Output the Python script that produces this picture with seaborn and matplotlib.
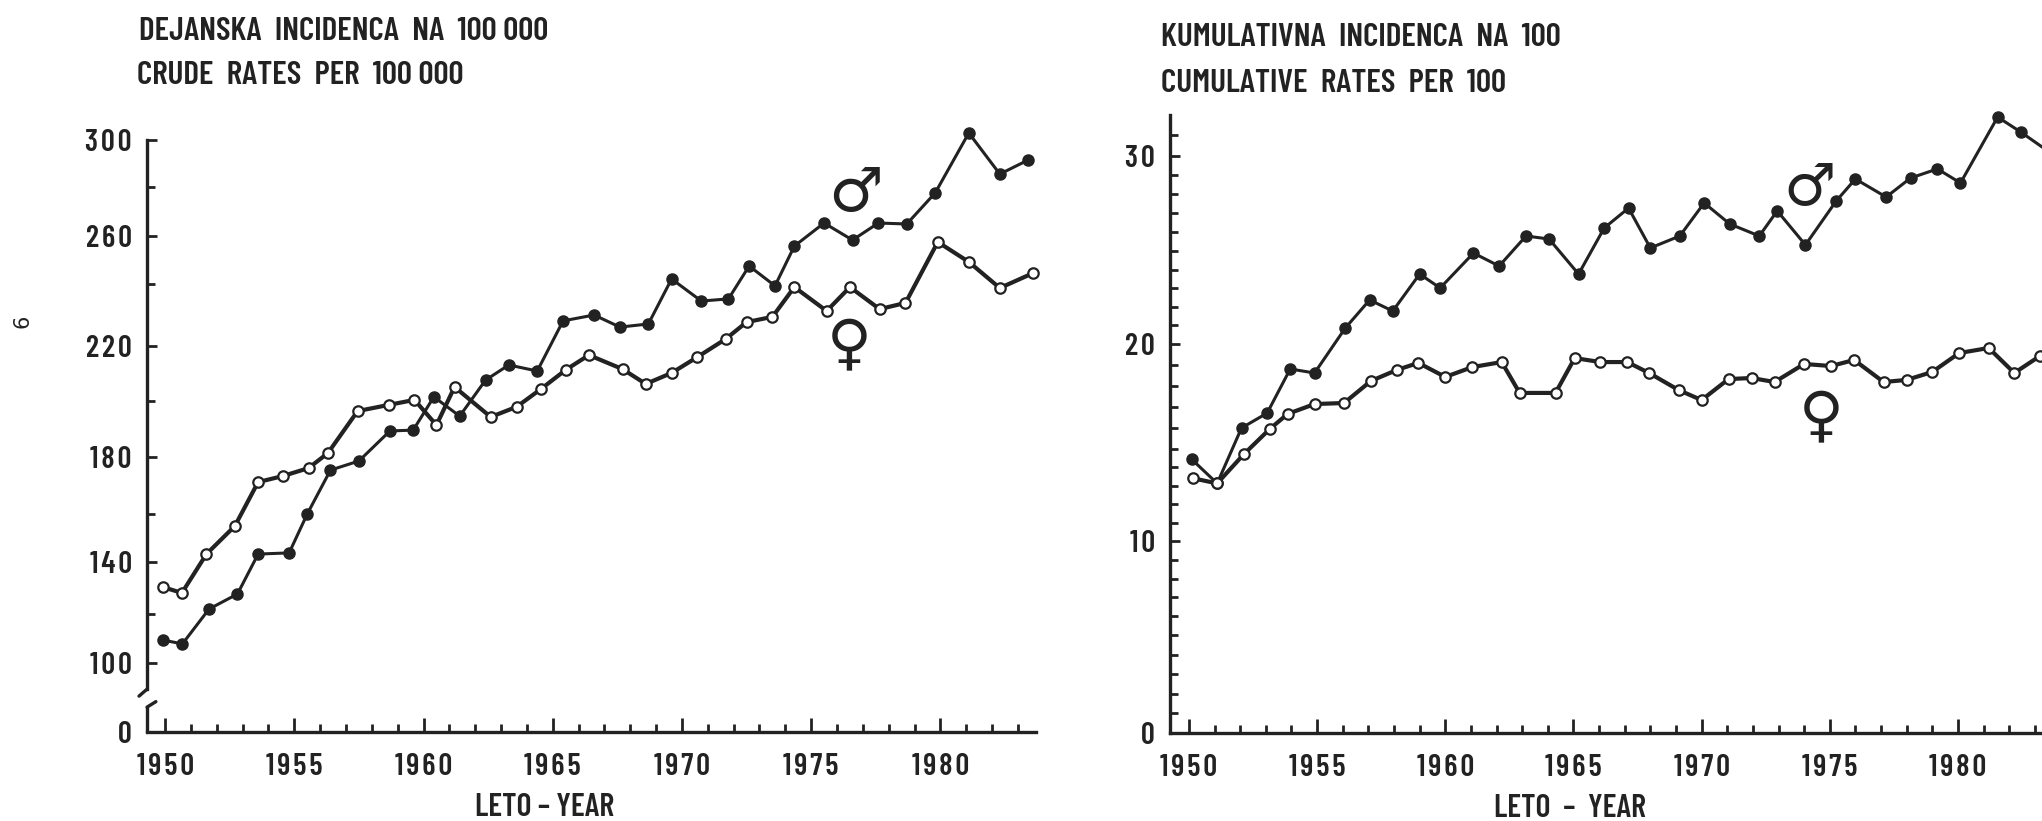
import matplotlib
matplotlib.use("Agg")
import matplotlib.pyplot as plt
from matplotlib.ticker import FixedLocator
import numpy as np
import pandas as pd
import seaborn as sns

# values, x positions are as drawn (hand plotted, not exactly on the year)
crude_male_x = [1949.9, 1950.67, 1951.7, 1952.8, 1953.6, 1954.8, 1955.5, 1956.4, 1957.5, 1958.7, 1959.6,
                1960.4, 1961.4, 1962.4, 1963.3, 1964.4, 1965.4, 1966.6, 1967.6, 1968.7, 1969.6, 1970.75,
                1971.8, 1972.6, 1973.6, 1974.35, 1975.5, 1976.6, 1977.6, 1978.7, 1979.8, 1981.1, 1982.3, 1983.4]
crude_male_y = [109.4, 107.8, 121.9, 127.7, 143.3, 143.8, 160, 175.4, 178.6, 189.3, 189.6,
                201.5, 194.6, 207.6, 213.1, 210.9, 228.1, 230, 226.1, 227.1, 242.1, 234.5,
                235.2, 247.5, 239.4, 255.8, 265.3, 258.3, 265.3, 264.9, 277.6, 303, 285.5, 291.5]
crude_female_x = [1949.9, 1950.65, 1951.6, 1952.7, 1953.6, 1954.55, 1955.55, 1956.3, 1957.45, 1958.65, 1959.65,
                  1960.5, 1961.2, 1962.6, 1963.6, 1964.55, 1965.5, 1966.4, 1967.7, 1968.6, 1969.6, 1970.6,
                  1971.7, 1972.5, 1973.5, 1974.35, 1975.6, 1976.5, 1977.65, 1978.65, 1979.9, 1981.1, 1982.3, 1983.6]
crude_female_y = [130.4, 128.1, 143.3, 155, 171.2, 173.3, 176.1, 181.4, 196.4, 198.6, 200.4,
                  191.4, 205.1, 194.3, 197.9, 204.4, 211.3, 216.7, 211.6, 206.2, 210.2, 216,
                  222.3, 227.7, 229.4, 239, 231.3, 239, 231.9, 233.9, 257.5, 249.2, 238.7, 244.6]

cum_male_x = [1950.1, 1951.1, 1952.05, 1953.05, 1953.95, 1954.9, 1956.1, 1957.05, 1957.95, 1959.0, 1959.8,
              1961.1, 1962.1, 1963.15, 1964.05, 1965.2, 1966.2, 1967.15, 1968.0, 1969.15, 1970.1, 1971.1,
              1972.25, 1972.95, 1974.05, 1975.25, 1976.0, 1977.2, 1978.15, 1979.2, 1980.1, 1981.55, 1982.45, 1983.5]
cum_male_y = [14.45, 13.13, 16.0, 16.71, 18.81, 18.62, 20.86, 22.37, 21.77, 23.76, 23.01,
              24.89, 24.19, 25.79, 25.63, 23.76, 26.21, 27.26, 25.16, 25.79, 27.53, 26.42,
              25.79, 27.11, 25.32, 27.63, 28.79, 27.84, 28.84, 29.32, 28.58, 31.9, 31.17, 30.25]
cum_female_x = [1950.15, 1951.1, 1952.15, 1953.15, 1953.85, 1954.9, 1956.05, 1957.1, 1958.1, 1958.95, 1960,
                1961.05, 1962.2, 1962.9, 1964.3, 1965.05, 1966.05, 1967.1, 1967.95, 1969.1, 1970, 1971.05,
                1971.95, 1972.85, 1974, 1975.05, 1975.95, 1977.1, 1978, 1979, 1980.05, 1981.2, 1982.2, 1983.2]
cum_female_y = [13.41, 13.13, 14.73, 15.95, 16.67, 17.14, 17.19, 18.24, 18.76, 19.1, 18.43,
                18.9, 19.14, 17.67, 17.67, 19.33, 19.14, 19.14, 18.62, 17.81, 17.33, 18.33,
                18.38, 18.19, 19.05, 18.95, 19.24, 18.19, 18.29, 18.67, 19.57, 19.81, 18.62, 19.43]

year_ticks = [1950, 1955, 1960, 1965, 1970, 1975, 1980]
crude_ticks = [0, 100, 140, 180, 220, 260, 300]
cum_ticks = [0, 10, 20, 30]

INK = "#222222"
W, H = 2042, 821
GAP = "\u200a"  # the typewriter digits of the scan sit further apart

sns.set_theme(style="white")
plt.rcParams["font.family"] = ["Barlow Condensed", "DejaVu Sans"]
plt.rcParams["font.weight"] = 600


def frac(x, y):
    # pixel in the scan -> figure fraction
    return x / W, 1 - y / H


def make_axes(fig, left, right, top, bottom):
    x0, y0 = frac(left, bottom)
    x1, y1 = frac(right, top)
    return fig.add_axes([x0, y0, x1 - x0, y1 - y0])


def uneven_scale(ax, values, heights):
    # the drawn axes of the scan are not evenly spaced, so follow the printed ticks
    ax.set_yscale("function", functions=(
        lambda v: np.interp(v, values, heights),
        lambda h: np.interp(h, heights, values),
    ))


def spaced(ticks):
    return [GAP.join(str(t)) for t in ticks]


def draw_series(ax, xs, ys, filled):
    df = pd.DataFrame({"x": xs, "y": ys})
    sns.lineplot(data=df, x="x", y="y", ax=ax, sort=False, estimator=None, color=INK,
                 linewidth=2.2 if filled else 3.0, marker="o", markersize=8 if filled else 7.5,
                 markerfacecolor=INK if filled else "white", markeredgecolor=INK,
                 markeredgewidth=1.0 if filled else 1.6, clip_on=False, zorder=3)


def style_axes(ax, yticks, yminor, xmax_tick):
    sns.despine(ax=ax)
    ax.spines["left"].set_linewidth(2.4)
    ax.spines["bottom"].set_linewidth(2.4)
    ax.spines["left"].set_color(INK)
    ax.spines["bottom"].set_color(INK)
    ax.set_xticks(year_ticks, spaced(year_ticks))
    ax.set_yticks(yticks, spaced(yticks))
    ax.xaxis.set_minor_locator(FixedLocator([y for y in range(1950, xmax_tick + 1) if y % 5]))
    ax.yaxis.set_minor_locator(FixedLocator(yminor))
    ax.tick_params(axis="x", which="major", direction="in", length=10, width=2, color=INK,
                   labelsize=22, labelcolor=INK, pad=15)
    ax.tick_params(axis="x", which="minor", direction="in", length=5.5, width=2, color=INK)
    ax.tick_params(axis="y", which="major", direction="in", length=7.5, width=2, color=INK,
                   labelsize=22, labelcolor=INK, pad=11)
    ax.tick_params(axis="y", which="minor", direction="in", length=6, width=2, color=INK)
    ax.tick_params(which="both", bottom=True, left=True)
    ax.set_ylabel("")
    ax.grid(False)


fig = plt.figure(figsize=(W / 100, H / 100), dpi=100, facecolor="white")

# left panel, crude rates
ax1 = make_axes(fig, 147, 1036, 93, 732)
uneven_scale(ax1, [0, 100, 120, 140, 160, 180, 200, 220, 240, 260, 280, 300, 320],
             [0, 69, 118, 170, 218, 275, 331, 386, 448, 496, 545, 592, 639])
ax1.set_xlim(1949.3, 1983.7)
ax1.set_ylim(0, 320)
draw_series(ax1, crude_male_x, crude_male_y, True)
draw_series(ax1, crude_female_x, crude_female_y, False)
style_axes(ax1, crude_ticks, [120, 160, 200, 240, 280], 1983)
ax1.spines["left"].set_bounds(62, 300)
ax1.set_xlabel("LETO – YEAR", fontsize=23, fontweight=600, color=INK, labelpad=9, x=0.447)
# broken y axis between 0 and 100
trans = ax1.get_yaxis_transform()
ax1.plot([0, 0], [0, 36], color=INK, lw=2.4, transform=trans, clip_on=False)
ax1.plot([0, 0.01], [36, 44], color=INK, lw=2.4, transform=trans, clip_on=False)
ax1.plot([-0.009, 0.0], [52, 62], color=INK, lw=2.4, transform=trans, clip_on=False)

# right panel, cumulative rates, runs off the edge of the scan
ax2 = make_axes(fig, 1170, 2042, 115, 733)
uneven_scale(ax2, [0, 5, 10, 15, 20, 25, 30, 32],
             [0, 98, 192, 284, 389, 482, 577, 618])
ax2.set_xlim(1949.26, 1983.28)
ax2.set_ylim(0, 32)
draw_series(ax2, cum_male_x, cum_male_y, True)
draw_series(ax2, cum_female_x, cum_female_y, False)
style_axes(ax2, cum_ticks, [v for v in range(1, 32) if v % 10], 1983)
ax2.set_xlabel("LETO  –  YEAR", fontsize=23, fontweight=600, color=INK, labelpad=9, x=0.4585)

# titles
for x, y, s in [(139, 32, "DEJANSKA  INCIDENCA  NA  100 000"), (137, 76, "CRUDE  RATES  PER  100 000"),
                (1161, 37, "KUMULATIVNA  INCIDENCA  NA  100"), (1161, 84, "CUMULATIVE  RATES  PER  100")]:
    fx, fy = frac(x, y)
    fig.text(fx, fy, s, fontsize=24, color=INK, ha="left", va="center")

# page number of the scan
fx, fy = frac(22, 321)
fig.text(fx, fy, "6", fontsize=15, color=INK, rotation=90, ha="center", va="center", weight="normal",
         family="DejaVu Sans")

# sex symbols
for x, y, s, size in [(855, 194, "\u2642", 44), (849, 347, "\u2640", 44),
                      (1810, 188, "\u2642", 42), (1821, 419, "\u2640", 44)]:
    fx, fy = frac(x, y)
    fig.text(fx, fy, s, fontsize=size, color=INK, ha="center", va="center", family="DejaVu Sans",
             weight="normal")

fig.savefig("out.png", dpi=100, facecolor="white")
